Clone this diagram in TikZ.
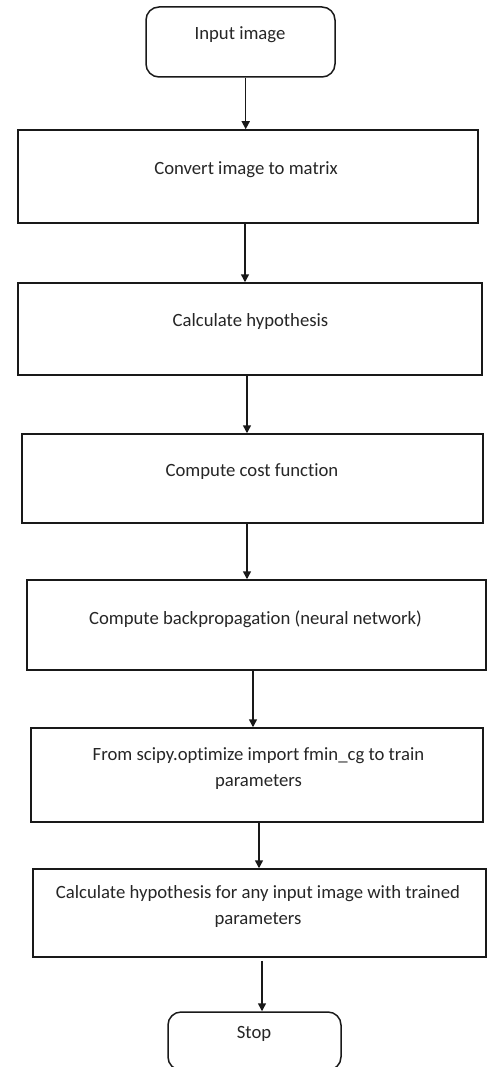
\documentclass[tikz,border=0pt]{standalone}
\usepackage{fontspec}
\setmainfont[Ligatures=NoCommon]{Carlito}
\usetikzlibrary{arrows.meta}
\begin{document}
\begin{tikzpicture}[x=1pt,y=-1pt,
  box/.style={draw=black!90,line width=1.5pt,inner sep=0pt},
  term/.style={box,rounded corners=13pt},
  txt/.style={font=\fontsize{18.7}{26}\selectfont,text=black!85,align=center,inner sep=0pt},
  arr/.style={draw=black!90,line width=1.5pt,-{Triangle[width=8pt,length=8pt]}}]
\clip (0,0) rectangle (487,1067);
\fill[white] (0,0) rectangle (487,1067);
\node[term,minimum width=189pt,minimum height=70pt] (inp) at (240.5,42) {};
\node[txt] (inpT) at (240,35) {Input image};
\node[box,minimum width=460pt,minimum height=93pt] (conv) at (248,176.5) {};
\node[txt] (convT) at (246,170) {Convert image to matrix};
\node[box,minimum width=464pt,minimum height=92pt] (hyp) at (250,329) {};
\node[txt] (hypT) at (250.5,322) {Calculate hypothesis};
\node[box,minimum width=461pt,minimum height=89pt] (cost) at (252.5,478.5) {};
\node[txt] (costT) at (252,472) {Compute cost function};
\node[box,minimum width=459pt,minimum height=90pt] (back) at (256.5,625) {};
\node[txt] (backT) at (255.5,619) {Compute backpropagation (neural network)};
\node[box,minimum width=452pt,minimum height=94pt] (opt) at (257,775) {};
\node[txt] (optT) at (258.5,769) {From scipy.optimize import fmin\_cg to train\\parameters};
\node[box,minimum width=453pt,minimum height=88pt] (pred) at (259.5,913) {};
\node[txt] (predT) at (258,907) {Calculate hypothesis for any input image with trained\\parameters};
\node[term,minimum width=173pt,minimum height=58pt] (stop) at (254.5,1041) {};
\node[txt] (stopT) at (254,1034) {Stop};
\draw[arr] ([xshift=5.2pt]inp.south) -- ([xshift=5.2pt]inp.south |- conv.north);
\draw[arr] ([xshift=-3pt]conv.south) -- ([xshift=-3pt]conv.south |- hyp.north);
\draw[arr] ([xshift=-3pt]hyp.south) -- ([xshift=-3pt]hyp.south |- cost.north);
\draw[arr] ([xshift=-5.5pt]cost.south) -- ([xshift=-5.5pt]cost.south |- back.north);
\draw[arr] ([xshift=-3.5pt]back.south) -- ([xshift=-3.5pt]back.south |- opt.north);
\draw[arr] ([xshift=2pt]opt.south) -- ([xshift=2pt]opt.south |- pred.north);
\draw[arr] ([xshift=2.5pt,yshift=-3pt]pred.south) -- ([xshift=2.5pt]pred.south |- stop.north);
\end{tikzpicture}
\end{document}
